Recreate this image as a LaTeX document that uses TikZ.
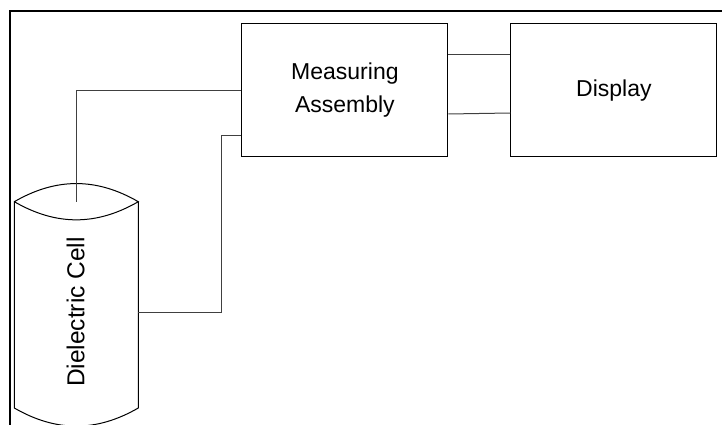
\documentclass[tikz,border=0pt]{standalone}
\usepackage{fontspec}
\setmainfont{Liberation Sans}
\begin{document}
\begin{tikzpicture}[x=1pt,y=1pt,line width=1pt,
    block/.style={draw,minimum width=206pt,minimum height=133pt,inner sep=0pt,
        align=center,font=\fontsize{23}{33}\selectfont},
    link/.style={draw=black!75}]
    \useasboundingbox (0,0) rectangle (722,425);
    % frame
    \draw[line width=2pt] (10,0) -- (10,414) -- (722,414);
    \node[block] (meas) at (344.9,334.5) {Measuring\\Assembly};
    \node[block] (disp) at (613.9,334.5) {Display};
    % cell
    \draw (14.3,223.3) to[bend left=30] (138.3,223.3) to[bend left=30] (14.3,223.3)
        -- (14.3,17) to[bend right=30] (138.3,17) -- (138.3,223.3);
    \coordinate (celltop) at (76.3,223.3);
    \coordinate (cellside) at (138.3,112.3);
    \node[rotate=90,font=\fontsize{24.5}{28}\selectfont] (cell) at (75.5,113) {Dielectric Cell};
    % links
    \draw[link] ([yshift=35.5pt]meas.east) -- ([yshift=35.5pt]disp.west);
    \draw[link] ([yshift=-23.5pt]meas.east) -- ([yshift=-22.5pt]disp.west);
    \draw[link] (meas.west) -| (celltop);
    \draw[link] ([yshift=-44.8pt]meas.west) -- ++(-20.2,0) |- (cellside);
\end{tikzpicture}
\end{document}
